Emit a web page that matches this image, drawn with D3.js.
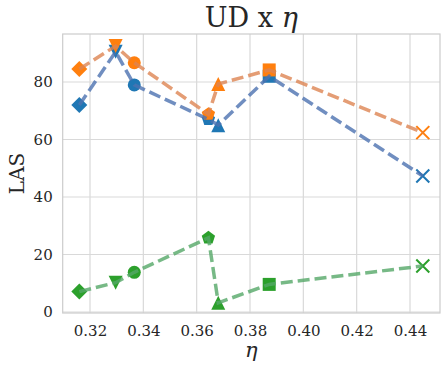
<!DOCTYPE html>
<html>
<head>
<meta charset="utf-8">
<script src="https://cdn.jsdelivr.net/npm/d3@7"></script>
<style>
  body { margin: 0; background: #fff; }
  text { font-family: "DejaVu Serif", serif; fill: #262626; }
</style>
</head>
<body>
<svg id="chart" width="448" height="373"></svg>
<script>
// eta values (x) and marker per point
var eta = [0.316, 0.3296, 0.3366, 0.3644, 0.3681, 0.3872, 0.4448];
var markers = ["diamond", "tridown", "circle", "pentagon", "triup", "square", "x"];

// LAS values per series
var blueLAS   = [72.0, 90.5, 79.0, 67.0, 65.0, 82.0, 47.3];
var orangeLAS = [84.5, 92.5, 86.7, 68.8, 79.3, 84.2, 62.4];
var greenLAS  = [7.1, 10.2, 13.8, 25.8, 3.2, 9.6, 16.0];

var xTicks = [0.32, 0.34, 0.36, 0.38, 0.40, 0.42, 0.44];
var yTicks = [0, 20, 40, 60, 80];

var series = [
    {"name": "blue",   "values": blueLAS,   "marker": "#1f77b4", "line": "#4c72b0"},
    {"name": "orange", "values": orangeLAS, "marker": "#ff7f0e", "line": "#dd8452"},
    {"name": "green",  "values": greenLAS,  "marker": "#2ca02c", "line": "#55a868"}
];

var svg = d3.select("#chart"),
    margin = {top: 34, right: 8, bottom: 60, left: 62.7},
    width = 448 - margin.left - margin.right,
    height = 373 - margin.top - margin.bottom;

var x = d3.scaleLinear().domain([0.30976, 0.45125]).range([0, width]);
var y = d3.scaleLinear().domain([-0.35, 96.7]).range([height, 0]);

var g = svg.append("g").attr("transform", "translate(" + margin.left + "," + margin.top + ")");

// Grid
g.selectAll(".xgrid").data(xTicks).enter().append("line")
    .attr("x1", function (d) { return x(d); }).attr("x2", function (d) { return x(d); })
    .attr("y1", 0).attr("y2", height)
    .attr("stroke", "#d9d9d9").attr("stroke-width", 1.2);
g.selectAll(".ygrid").data(yTicks).enter().append("line")
    .attr("y1", function (d) { return y(d); }).attr("y2", function (d) { return y(d); })
    .attr("x1", 0).attr("x2", width)
    .attr("stroke", "#d9d9d9").attr("stroke-width", 1.2);

// Frame
g.append("rect").attr("width", width).attr("height", height)
    .attr("fill", "none").attr("stroke", "#cccccc").attr("stroke-width", 1.2);

// Axes (labels only)
var xAxis = g.append("g").attr("transform", "translate(0," + height + ")")
    .call(d3.axisBottom(x).tickValues(xTicks).tickFormat(d3.format(".2f")).tickSize(0).tickPadding(12));
var yAxis = g.append("g")
    .call(d3.axisLeft(y).tickValues(yTicks).tickSize(0).tickPadding(10));
[xAxis, yAxis].forEach(function (a) {
    a.select(".domain").remove();
    a.selectAll("text").style("font-family", "DejaVu Serif").style("font-size", "15px").attr("fill", "#262626");
});

// Marker shapes
function markerPath(type) {
    var p = d3.path();
    if (type === "circle") { p.arc(0, 0, 6.5, 0, 2 * Math.PI); }
    else if (type === "square") { p.rect(-6.5, -6.5, 13, 13); }
    else if (type === "diamond") { p.moveTo(0, -8); p.lineTo(8, 0); p.lineTo(0, 8); p.lineTo(-8, 0); p.closePath(); }
    else if (type === "tridown") { p.moveTo(-7, -7); p.lineTo(7, -7); p.lineTo(0, 7); p.closePath(); }
    else if (type === "triup") { p.moveTo(-7, 7); p.lineTo(7, 7); p.lineTo(0, -7); p.closePath(); }
    else if (type === "pentagon") {
        for (var i = 0; i < 5; i++) {
            var a = -Math.PI / 2 + i * 2 * Math.PI / 5;
            if (i === 0) p.moveTo(7 * Math.cos(a), 7 * Math.sin(a));
            else p.lineTo(7 * Math.cos(a), 7 * Math.sin(a));
        }
        p.closePath();
    }
    else if (type === "x") { p.moveTo(-6.5, -6.5); p.lineTo(6.5, 6.5); p.moveTo(-6.5, 6.5); p.lineTo(6.5, -6.5); }
    return p.toString();
}

// Markers first
series.forEach(function (s) {
    g.selectAll(".m-" + s.name).data(s.values).enter().append("path")
        .attr("class", "m-" + s.name)
        .attr("transform", function (d, i) { return "translate(" + x(eta[i]) + "," + y(d) + ")"; })
        .attr("d", function (d, i) { return markerPath(markers[i]); })
        .attr("fill", function (d, i) { return markers[i] === "x" ? "none" : s.marker; })
        .attr("stroke", s.marker)
        .attr("stroke-width", function (d, i) { return markers[i] === "x" ? 2 : 0; });
});

// Lines on top
var line = d3.line().x(function (d, i) { return x(eta[i]); }).y(function (d) { return y(d); });
series.forEach(function (s) {
    g.append("path").datum(s.values)
        .attr("d", line)
        .attr("fill", "none")
        .attr("stroke", s.line)
        .attr("stroke-opacity", 0.8)
        .attr("stroke-width", 3.5)
        .attr("stroke-dasharray", "12,5");
});

// Title and labels
svg.append("text").attr("x", margin.left + width / 2).attr("y", 27)
    .attr("text-anchor", "middle").style("font-size", "27px")
    .html('UD x <tspan font-style="italic">η</tspan>');
svg.append("text").attr("x", margin.left + width / 2).attr("y", 357)
    .attr("text-anchor", "middle").style("font-size", "21px").style("font-style", "italic")
    .text("η");
svg.append("text").attr("transform", "translate(24," + (margin.top + height / 2) + ") rotate(-90)")
    .attr("text-anchor", "middle").style("font-size", "20px")
    .text("LAS");
</script>
</body>
</html>
